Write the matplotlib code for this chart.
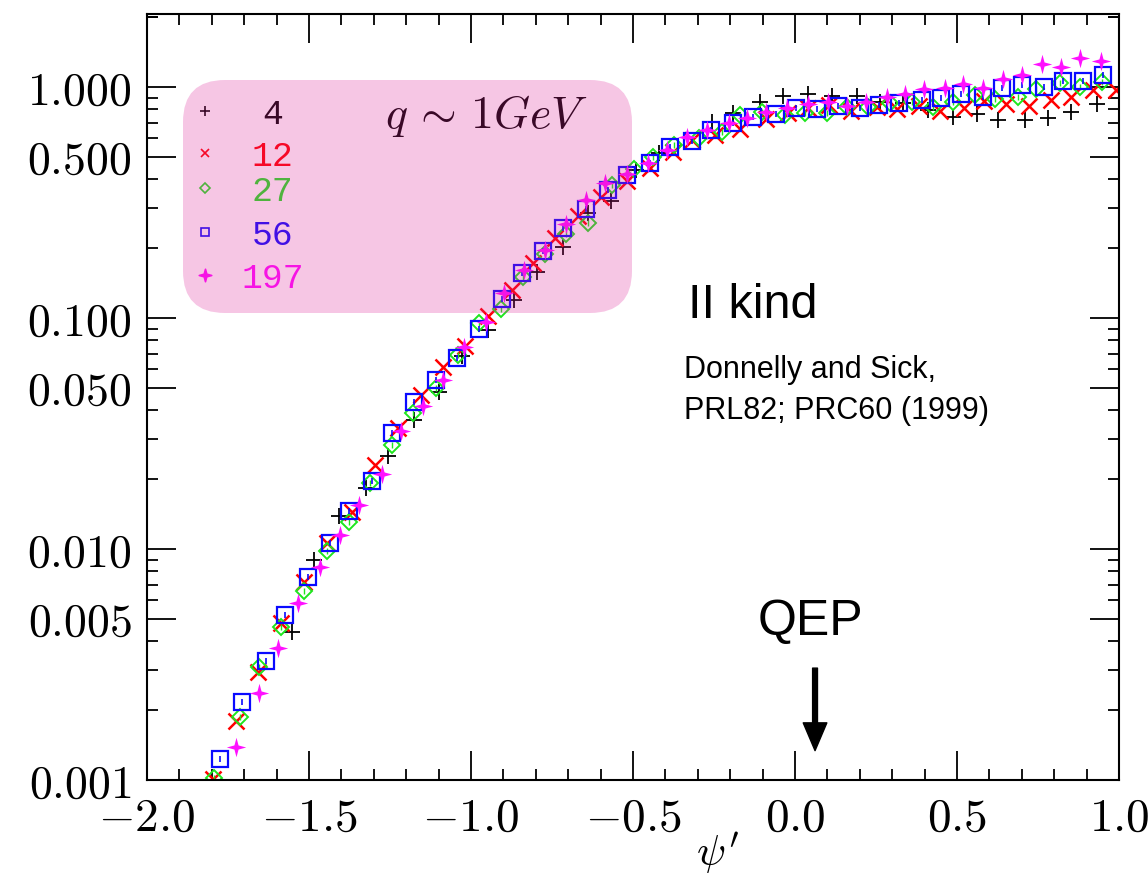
import matplotlib.pyplot as plt
import numpy as np
from matplotlib.patches import FancyBboxPatch
from matplotlib.path import Path
from matplotlib.ticker import FixedLocator, NullFormatter, MultipleLocator

plt.rcParams['mathtext.fontset'] = 'cm'

# psi' and scaling function, one pair of lists per nucleus (A)
x4 = [-1.552, -1.485, -1.407, -1.324, -1.256, -1.176, -1.099, -1.028, -0.948, -0.867,
      -0.796, -0.716, -0.639, -0.568, -0.491, -0.420, -0.256, -0.191, -0.108, -0.037,
      0.040, 0.114, 0.191, 0.262, 0.333, 0.410, 0.488, 0.562, 0.627, 0.710,
      0.781, 0.852, 0.932]
y4 = [0.00437, 0.00896, 0.0139, 0.0184, 0.0253, 0.0362, 0.0478, 0.0685, 0.0887, 0.120,
      0.158, 0.203, 0.285, 0.321, 0.437, 0.518, 0.705, 0.772, 0.861, 0.914,
      0.933, 0.914, 0.914, 0.861, 0.852, 0.795, 0.741, 0.764, 0.720, 0.720,
      0.734, 0.780, 0.844]

x12 = [-1.796, -1.725, -1.657, -1.586, -1.515, -1.444, -1.367, -1.296, -1.225, -1.154,
       -1.086, -1.019, -0.948, -0.873, -0.809, -0.741, -0.670, -0.599, -0.519, -0.448,
       -0.377, -0.318, -0.247, -0.170, -0.090, -0.022, 0.040, 0.105, 0.173, 0.253,
       0.315, 0.383, 0.448, 0.522, 0.583, 0.651, 0.722, 0.790, 0.852, 0.920, 0.991]
y12 = [0.00101, 0.00180, 0.00294, 0.00478, 0.00720, 0.0106, 0.0145, 0.0231, 0.0334, 0.0464,
       0.0614, 0.0757, 0.102, 0.132, 0.173, 0.222, 0.277, 0.334, 0.392, 0.446,
       0.523, 0.590, 0.620, 0.658, 0.727, 0.772, 0.811, 0.836, 0.787, 0.819,
       0.803, 0.827, 0.787, 0.811, 0.870, 0.844, 0.827, 0.878, 0.905, 0.971, 0.971]

x27 = [-1.793, -1.713, -1.654, -1.586, -1.515, -1.444, -1.377, -1.312, -1.244, -1.179,
       -1.108, -1.040, -0.975, -0.907, -0.840, -0.772, -0.707, -0.639, -0.565, -0.497,
       -0.438, -0.373, -0.296, -0.225, -0.170, -0.102, -0.031, 0.031, 0.099, 0.160,
       0.225, 0.293, 0.361, 0.426, 0.488, 0.556, 0.617, 0.688, 0.744, 0.818, 0.880, 0.948]
y27 = [0.00102, 0.00188, 0.00308, 0.00459, 0.00658, 0.00980, 0.0131, 0.0193, 0.0282, 0.0388,
       0.0498, 0.0692, 0.0952, 0.109, 0.150, 0.189, 0.231, 0.258, 0.376, 0.442,
       0.498, 0.561, 0.601, 0.639, 0.756, 0.780, 0.756, 0.772, 0.772, 0.819,
       0.819, 0.852, 0.861, 0.819, 0.861, 0.923, 0.887, 0.905, 0.980, 1.041, 1.000, 1.051]

x56 = [-1.775, -1.707, -1.633, -1.574, -1.503, -1.435, -1.377, -1.306, -1.244, -1.176,
       -1.108, -1.043, -0.975, -0.904, -0.843, -0.778, -0.716, -0.645, -0.577, -0.519,
       -0.448, -0.386, -0.318, -0.259, -0.191, -0.130, -0.059, 0.003, 0.068, 0.133,
       0.201, 0.259, 0.321, 0.392, 0.451, 0.512, 0.580, 0.639, 0.701, 0.769,
       0.827, 0.889, 0.951]
y56 = [0.00123, 0.00218, 0.00327, 0.00518, 0.00757, 0.0106, 0.0146, 0.0197, 0.0318, 0.0433,
       0.0539, 0.0671, 0.0896, 0.121, 0.157, 0.195, 0.245, 0.296, 0.358, 0.416,
       0.469, 0.550, 0.584, 0.651, 0.699, 0.741, 0.764, 0.811, 0.803, 0.827,
       0.811, 0.836, 0.852, 0.878, 0.896, 0.933, 0.905, 0.990, 1.020, 1.000,
       1.062, 1.062, 1.127]

x197 = [-1.725, -1.654, -1.596, -1.534, -1.466, -1.404, -1.346, -1.275, -1.216, -1.148,
        -1.086, -1.022, -0.954, -0.898, -0.836, -0.772, -0.707, -0.645, -0.586, -0.519,
        -0.454, -0.395, -0.333, -0.272, -0.204, -0.148, -0.090, -0.025, 0.040, 0.102,
        0.160, 0.219, 0.284, 0.340, 0.398, 0.463, 0.519, 0.580, 0.642, 0.701,
        0.762, 0.821, 0.880, 0.944]
y197 = [0.00139, 0.00238, 0.00373, 0.00584, 0.00836, 0.0115, 0.0155, 0.0211, 0.0324, 0.0416,
        0.0539, 0.0749, 0.0962, 0.128, 0.161, 0.197, 0.255, 0.324, 0.384, 0.420,
        0.469, 0.534, 0.607, 0.651, 0.699, 0.734, 0.780, 0.811, 0.844, 0.861,
        0.827, 0.861, 0.905, 0.933, 0.980, 0.990, 1.030, 0.990, 1.083, 1.127,
        1.258, 1.221, 1.335, 1.296]

names = ['4', '12', '27', '56', '197']
colors = ['#000000', '#ff0000', '#1ee61e', '#0a0aff', '#ff10ff']
ytick_vals = [0.001, 0.005, 0.010, 0.050, 0.100, 0.500, 1.000]
ytick_text = ['0.001', '0.005', '0.010', '0.050', '0.100', '0.500', '1.000']
xtick_vals = [-2.0, -1.5, -1.0, -0.5, 0.0, 0.5, 1.0]

star = Path.unit_regular_star(4, 0.3)

fig = plt.figure(figsize=(11.48, 8.76), dpi=100)
ax = fig.add_axes([0.1280, 0.1096, 0.8467, 0.8744])

ax.plot(x4, y4, ls='none', marker='+', ms=12, mew=1.3, color=colors[0])
ax.plot(x12, y12, ls='none', marker='x', ms=11, mew=1.8, color=colors[1])
ax.plot(x27, y27, ls='none', marker='D', ms=8, mew=1.4, mfc='none', color=colors[2])
ax.plot(x27, y27, ls='none', marker='|', ms=4, mew=1.0, color=colors[2])
ax.plot(x56, y56, ls='none', marker='s', ms=11, mew=1.6, mfc='none', color=colors[3])
ax.plot(x56, y56, ls='none', marker='|', ms=5, mew=1.2, color=colors[3])
ax.plot(x197, y197, ls='none', marker=star, ms=14, mew=0, color=colors[4])

ax.set_yscale('log')
ax.set_xlim(-2.0, 1.0)
ax.set_ylim(0.001, 2.07)

ax.set_xticks(xtick_vals)
ax.set_xticklabels([r'$%.1f$' % v for v in xtick_vals])
ax.xaxis.set_minor_locator(MultipleLocator(0.1))
ax.set_yticks(ytick_vals)
ax.set_yticklabels([r'$%s$' % t for t in ytick_text])
yminor = [k * 10.0 ** e for e in range(-3, 1) for k in [2, 3, 4, 6, 7, 8, 9] if k * 10.0 ** e < 2.07]
yminor.append(2.0)
ax.yaxis.set_minor_locator(FixedLocator(yminor))
ax.yaxis.set_minor_formatter(NullFormatter())

ax.tick_params(which='both', direction='in', top=True, right=True, width=1.3)
ax.tick_params(which='major', length=21)
ax.tick_params(which='minor', length=8)
ax.tick_params(axis='x', which='major', labelsize=34, pad=11)
ax.tick_params(axis='y', which='major', labelsize=33, pad=11)
for s in ax.spines.values():
    s.set_linewidth(1.5)

ax.text(0.5874, -0.096, r"$\psi'$", transform=ax.transAxes, fontsize=31,
        ha='center', va='center')

# legend inside the pink box
lmarkers = ['+', 'x', 'D', 's', star]
lsizes = [7, 6, 5, 6, 9]
ly_mark = [0.8734, 0.8185, 0.7728, 0.7154, 0.6593]
ly_text = [0.8564, 0.8016, 0.7559, 0.6984, 0.6423]
for i in range(5):
    face = 'none' if lmarkers[i] in ['D', 's'] else colors[i]
    ax.plot([0.0597], [ly_mark[i]], transform=ax.transAxes, ls='none', marker=lmarkers[i],
            ms=lsizes[i], mew=1.2, mfc=face, color=colors[i], clip_on=False)
    ax.text(0.1290, ly_text[i], names[i], transform=ax.transAxes, fontsize=25,
            family='Liberation Mono', color=colors[i], ha='center', va='baseline')

ax.text(0.2449, 0.8512, r'$q\,\sim\,1GeV$', transform=ax.transAxes, fontsize=33,
        ha='left', va='baseline')

box = FancyBboxPatch((1.83, 5.63), 4.49, 2.33, boxstyle='round,pad=0,rounding_size=0.42',
                     transform=fig.dpi_scale_trans, facecolor='#df239a', alpha=0.26,
                     edgecolor='none', zorder=10)
fig.add_artist(box)

ax.text(0.5566, 0.6031, 'II kind', transform=ax.transAxes, fontsize=35,
        family='Liberation Sans', ha='left', va='baseline')
ax.text(0.5525, 0.5248, 'Donnelly and Sick,', transform=ax.transAxes, fontsize=22,
        family='Liberation Sans', ha='left', va='baseline')
ax.text(0.5525, 0.4713, 'PRL82; PRC60 (1999)', transform=ax.transAxes, fontsize=22,
        family='Liberation Sans', ha='left', va='baseline')
ax.text(0.6831, 0.1893, 'QEP', transform=ax.transAxes, fontsize=36,
        family='Liberation Sans', ha='center', va='baseline')
ax.annotate('', xy=(0.062, 0.00134), xytext=(0.062, 0.00305),
            arrowprops=dict(width=3.5, headwidth=17, headlength=20, color='k', shrink=0))

fig.savefig('out.png', dpi=100)
